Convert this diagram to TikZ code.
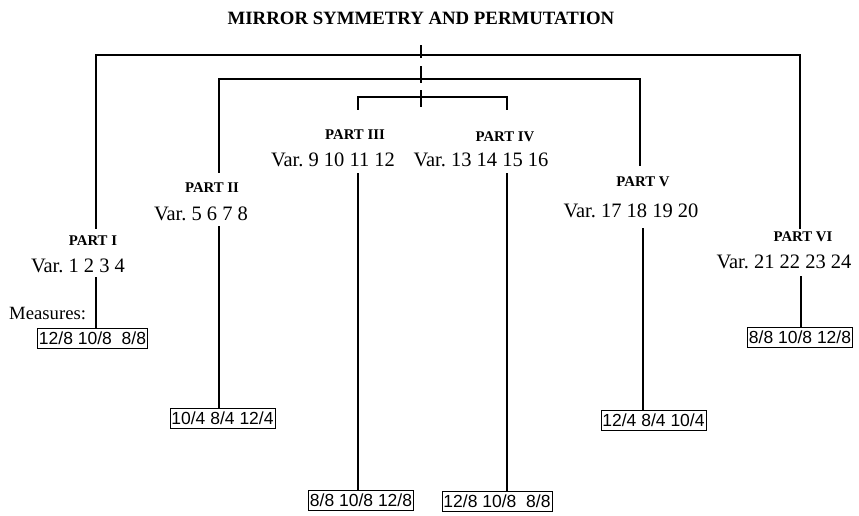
\documentclass[tikz,border=0pt]{standalone}
\usepackage{fontspec}
\setmainfont{Liberation Serif}
\newfontfamily\boxfont{Liberation Sans}
\begin{document}
\begin{tikzpicture}[x=1pt,y=-1pt,
  bracket/.style={line width=2.2pt,line cap=rect},
  stem/.style={line width=2pt},
  title/.style={font=\fontsize{18.8}{21}\selectfont\bfseries,inner sep=0pt},
  partlabel/.style={font=\fontsize{14.8}{17}\selectfont\bfseries,inner sep=0pt},
  vartext/.style={font=\fontsize{20.5}{23}\selectfont,inner sep=0pt},
  measbox/.style={draw,line width=0.8pt,font=\boxfont\fontsize{17.5}{19}\selectfont,inner xsep=1.5pt,inner ysep=1.5pt,minimum height=20pt},
  plain/.style={font=\fontsize{18.7}{21}\selectfont,inner sep=0pt}]
\useasboundingbox (0,0) rectangle (859,515);

\node[title] (title) at (421,18) {MIRROR SYMMETRY AND PERMUTATION};

% central dashed axis
\coordinate (d1a) at (421,45); \coordinate (d1b) at (421,58);
\coordinate (d2a) at (421,66); \coordinate (d2b) at (421,83);
\coordinate (d3a) at (421,90); \coordinate (d3b) at (421,107);
\draw[stem] (d1a) -- (d1b);
\draw[stem] (d2a) -- (d2b);
\draw[stem] (d3a) -- (d3b);

% part labels
\node[partlabel] (p1) at (93,241) {PART I};
\node[vartext]   (v1) at (78,266) {Var.\ 1 2 3 4};
\node[partlabel] (p2) at (212,188) {PART II};
\node[vartext]   (v2) at (201,214) {Var.\ 5 6 7 8};
\node[partlabel] (p3) at (355,135) {PART III};
\node[vartext]   (v3) at (333,160) {Var.\ 9 10 11 12};
\node[partlabel] (p4) at (505,137) {PART IV};
\node[vartext]   (v4) at (481,160) {Var.\ 13 14 15 16};
\node[partlabel] (p5) at (643,182) {PART V};
\node[vartext]   (v5) at (631,211) {Var.\ 17 18 19 20};
\node[partlabel] (p6) at (803,237) {PART VI};
\node[vartext]   (v6) at (784,262) {Var.\ 21 22 23 24};

\node[plain,anchor=west] (meas) at (9,314) {Measures:};

% boxes
\node[measbox] (b1) at (92.5,338) {12/8 10/8\ \ 8/8};
\node[measbox] (b2) at (222.5,418) {10/4 8/4 12/4};
\node[measbox] (b3) at (361,500) {8/8 10/8 12/8};
\node[measbox] (b4) at (497,501) {12/8 10/8\ \ 8/8};
\node[measbox] (b5) at (653.5,420) {12/4 8/4 10/4};
\node[measbox] (b6) at (800,337) {8/8 10/8 12/8};

% brackets
\coordinate (k1) at (421,55);
\coordinate (t1) at (96,228);
\coordinate (t6) at (800,228);
\draw[bracket] (t1) |- (k1) -| (t6);

\coordinate (k2) at (421,79);
\coordinate (t2) at (219,172);
\coordinate (t5) at (640,165);
\draw[bracket] (t2) |- (k2) -| (t5);

\coordinate (k3) at (421,97);
\coordinate (t3) at (358,109);
\coordinate (t4) at (507,109);
\draw[bracket] (t3) |- (k3) -| (t4);

% stems to measure boxes
\coordinate (s1) at (96,277);
\coordinate (s2) at (219,226);
\coordinate (s3) at (358,173);
\coordinate (s4) at (507,173);
\coordinate (s5) at (643,228);
\coordinate (s6) at (801,276);
\draw[stem] (s1) -- (s1 |- b1.north);
\draw[stem] (s2) -- (s2 |- b2.north);
\draw[stem] (s3) -- (s3 |- b3.north);
\draw[stem] (s4) -- (s4 |- b4.north);
\draw[stem] (s5) -- (s5 |- b5.north);
\draw[stem] (s6) -- (s6 |- b6.north);
\end{tikzpicture}
\end{document}
